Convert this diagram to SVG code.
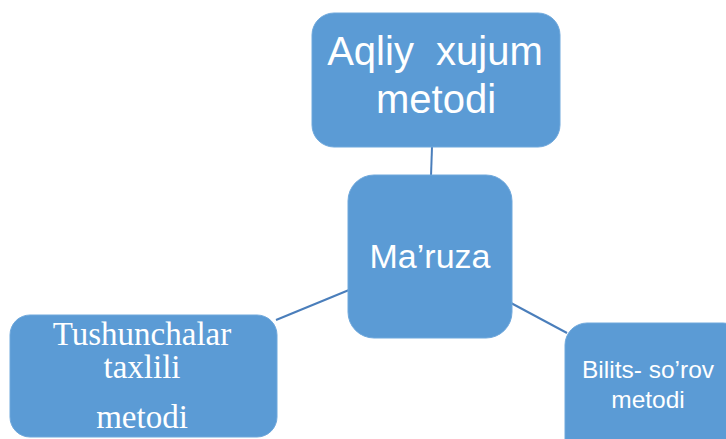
<svg xmlns="http://www.w3.org/2000/svg" width="726" height="439" viewBox="0 0 726 439">
<style>
.box{fill:#5b9bd5;stroke:#6fa8dc;stroke-width:1}
.conn line{stroke:#4a7ebb;stroke-width:2}
.s{font-family:"Liberation Sans","Open Sans",sans-serif;fill:#ffffff;text-anchor:middle}
.r{font-family:"Liberation Serif",serif;fill:#ffffff;text-anchor:middle}
</style>
<rect width="726" height="439" fill="#ffffff"/>
<g class="conn" id="connectors">
<line x1="432" y1="147" x2="431" y2="176"/>
<line x1="276" y1="320" x2="349" y2="290"/>
<line x1="511" y1="303" x2="567" y2="333"/>
</g>
<g id="node-aqliy">
<rect class="box" x="312" y="13" width="248" height="134" rx="22"/>
<text class="s" x="435" y="65" font-size="40" xml:space="preserve">Aqliy  xujum</text>
<text class="s" x="436" y="113" font-size="40">metodi</text>
</g>
<g id="node-maruza">
<rect class="box" x="348" y="175" width="164" height="163" rx="26"/>
<text class="s" x="430" y="268" font-size="34">Ma’ruza</text>
</g>
<g id="node-tushunchalar">
<rect class="box" x="10" y="315" width="267" height="122" rx="20"/>
<text class="r" x="142" y="345" font-size="33">Tushunchalar</text>
<text class="r" x="142" y="378" font-size="33">taxlili</text>
<text class="r" x="142" y="428" font-size="33">metodi</text>
</g>
<g id="node-bilits">
<rect class="box" x="565" y="323" width="180" height="140" rx="22"/>
<text class="s" x="648" y="378" font-size="24.5">Bilits- so’rov</text>
<text class="s" x="648" y="408" font-size="24.5">metodi</text>
</g>
</svg>
